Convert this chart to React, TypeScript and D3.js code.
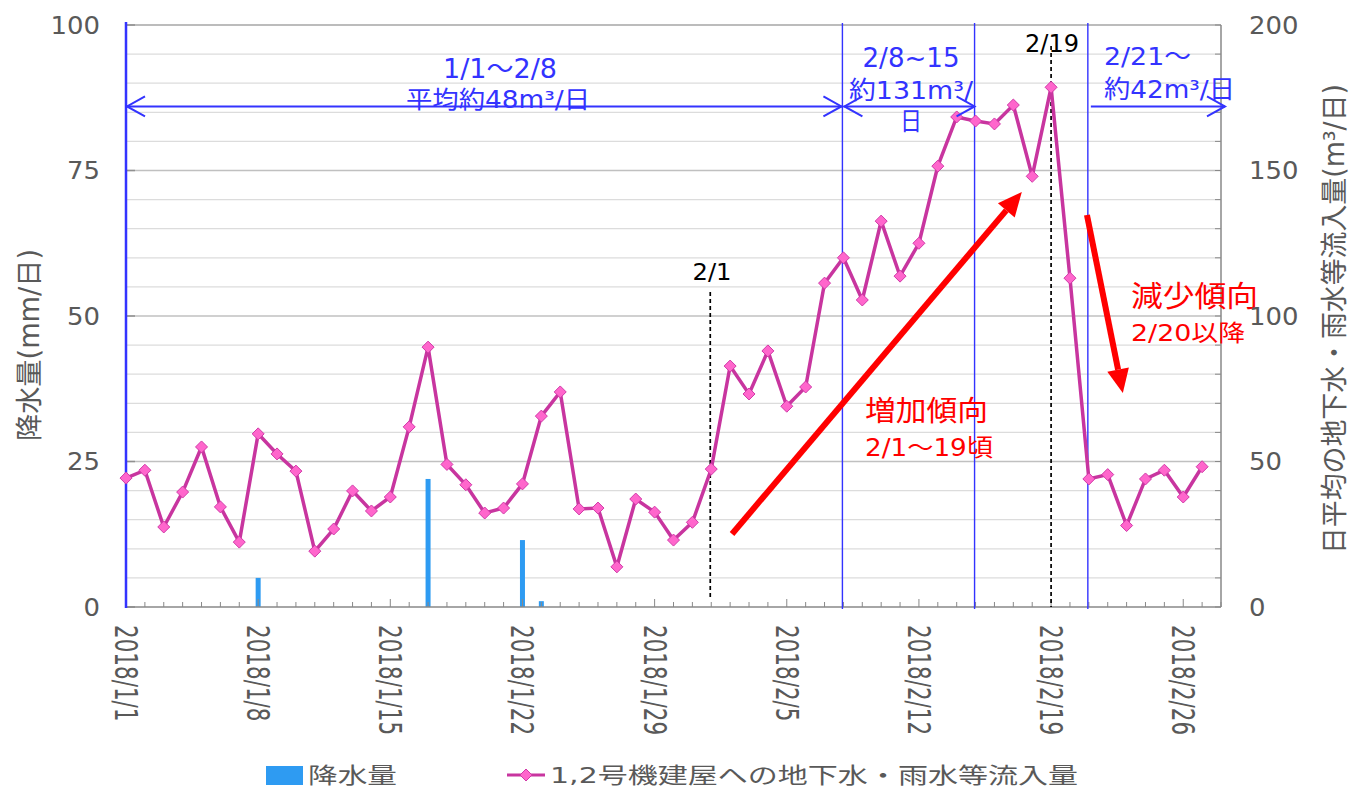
import React from 'react';
import * as d3 from 'd3';

const W = 1350;
const H = 787;

// daily inflow to Unit 1,2 buildings (m3/day), 2018/1/1 .. 2018/2/27
const flowJan = [44.3, 47, 27.5, 39.5, 55, 34.4, 22.3, 59.5, 52.6, 46.7, 19.2, 26.8, 39.9, 33, 37.8, 61.9,
  89.3, 49, 42, 32.3, 34, 42.3, 65.6, 73.9, 33.7, 34, 13.8, 37.1, 32.6, 23, 29.1];
const flowFeb = [47.4, 82.8, 73.2, 88, 69, 75.6, 111.3, 120, 105.5, 132.6, 113.7, 125, 151.5, 168.4, 167, 166,
  172.5, 148, 178.6, 113, 44, 45.5, 28, 44, 47, 37.8, 48.2];
const flow = [...flowJan, ...flowFeb];

// rainfall (mm/day), only days with rain
const rainDays = ['2018/1/8', '2018/1/17', '2018/1/22', '2018/1/23'];
const rainValues = [5, 22, 11.5, 1];

const xTickLabels = ['2018/1/1', '2018/1/8', '2018/1/15', '2018/1/22', '2018/1/29', '2018/2/5', '2018/2/12', '2018/2/19', '2018/2/26'];
const leftTicks = [0, 25, 50, 75, 100];
const rightTicks = [0, 50, 100, 150, 200];

const FONT = "'DejaVu Sans','Noto Sans CJK JP',sans-serif";
const GRAY = '#595959';
const BLUE = '#3333FF';
const RED = '#FF0000';

const start = new Date(Date.UTC(2018, 0, 1));
const parse = d3.utcParse('%Y/%m/%d');
const dayIdx = (s: string) => d3.utcDay.count(start, parse(s) as Date);

const plot = { left: 126, right: 1221, top: 25, bottom: 607 };
const x = d3.scaleLinear().domain([0, 58]).range([plot.left, plot.right]);
const yL = d3.scaleLinear().domain([0, 100]).range([plot.bottom, plot.top]);
const yR = d3.scaleLinear().domain([0, 200]).range([plot.bottom, plot.top]);

const diamond = (cx: number, cy: number, r = 6) =>
  `M${cx},${cy - r}L${cx + r},${cy}L${cx},${cy + r}L${cx - r},${cy}Z`;

function Txt({ x, y, len, size = 24, color = BLUE, anchor = 'start', children }: any) {
  return (
    <text x={x} y={y} fontSize={size} fill={color} textAnchor={anchor} fontFamily={FONT}
      textLength={len} lengthAdjust="spacingAndGlyphs">{children}</text>
  );
}

function redArrow(x1: number, y1: number, x2: number, y2: number) {
  const a = Math.atan2(y2 - y1, x2 - x1);
  const L = 24, hw = 11;
  const bx = x2 - L * Math.cos(a), by = y2 - L * Math.sin(a);
  const nx = -Math.sin(a), ny = Math.cos(a);
  return (
    <g>
      <line x1={x1} y1={y1} x2={bx} y2={by} stroke={RED} strokeWidth={6} />
      <path d={`M${x2},${y2}L${bx + nx * hw},${by + ny * hw}L${bx - nx * hw},${by - ny * hw}Z`} fill={RED} />
    </g>
  );
}

function chevron(tx: number, ty: number, dir: number) {
  return <path d={`M${tx - dir * 18},${ty - 10}L${tx},${ty}L${tx - dir * 18},${ty + 10}`} fill="none" stroke={BLUE} strokeWidth={2} />;
}

export default function App() {
  const line = d3.line<number>().x((_, i) => x(i)).y((d) => yR(d));
  const minor = d3.range(5, 100, 5);
  const arrowY = yL(86);
  const i2_1 = dayIdx('2018/2/1');
  const i2_8 = dayIdx('2018/2/8');
  const i2_15 = dayIdx('2018/2/15');
  const i2_19 = dayIdx('2018/2/19');
  const i2_21 = dayIdx('2018/2/21');

  return (
    <svg width={W} height={H} style={{ position: 'absolute', left: 0, top: 0, background: '#fff' }}>
      {/* gridlines */}
      {minor.map((v) => (
        <line key={v} x1={plot.left} x2={plot.right} y1={yL(v)} y2={yL(v)}
          stroke={v % 25 === 0 ? '#C0C0C0' : '#DCDCDC'} strokeWidth={v % 25 === 0 ? 1.5 : 1.2} />
      ))}
      <line x1={plot.left} x2={plot.right} y1={plot.top} y2={plot.top} stroke="#A6A6A6" strokeWidth={1.5} />
      {leftTicks.map((v) => (
        <line key={v} x1={plot.left} x2={plot.left + 9} y1={yL(v)} y2={yL(v)} stroke="#909090" strokeWidth={1.5} />
      ))}

      {/* rainfall bars */}
      {rainDays.map((d, i) => (
        <rect key={d} x={x(dayIdx(d)) - 2.5} width={5} y={yL(rainValues[i])} height={yL(0) - yL(rainValues[i])} fill="#2E9BF2" />
      ))}

      {/* axes */}
      <line x1={plot.left} x2={plot.right} y1={plot.bottom} y2={plot.bottom} stroke="#898989" strokeWidth={1.5} />
      <line x1={plot.right} x2={plot.right} y1={plot.top} y2={plot.bottom} stroke="#898989" strokeWidth={1.5} />
      {d3.range(0, 59).map((i) => (
        <line key={i} x1={x(i)} x2={x(i)} y1={plot.bottom} y2={plot.bottom - (i % 7 === 0 ? 8 : 5)} stroke="#898989" strokeWidth={1} />
      ))}
      {d3.range(0, 201, 10).map((v) => (
        <line key={v} x1={plot.right} x2={plot.right - 6} y1={yR(v)} y2={yR(v)} stroke="#898989" strokeWidth={1} />
      ))}

      {/* period separators */}
      <line x1={x(0)} x2={x(0)} y1={plot.top - 3} y2={plot.bottom + 1} stroke={BLUE} strokeWidth={2.5} />
      {[i2_8, i2_15, i2_21].map((i) => (
        <line key={i} x1={x(i) - 1} x2={x(i) - 1} y1={plot.top - 2} y2={plot.bottom + 2} stroke={BLUE} strokeWidth={1.4} />
      ))}
      <line x1={x(i2_1) - 1} x2={x(i2_1) - 1} y1={292} y2={plot.bottom - 8} stroke="#000" strokeWidth={1.7} strokeDasharray="4,3" />
      <line x1={x(i2_19)} x2={x(i2_19)} y1={46} y2={plot.bottom} stroke="#000" strokeWidth={1.7} strokeDasharray="4,3" />

      {/* inflow line */}
      <path d={line(flow) as string} fill="none" stroke="#C8359F" strokeWidth={3.5} />
      {flow.map((v, i) => (
        <path key={i} d={diamond(x(i), yR(v))} fill="#FF66CC" stroke="#D13AA8" strokeWidth={1} />
      ))}

      {/* period arrows */}
      <line x1={x(0)} x2={x(i2_8) - 1} y1={arrowY} y2={arrowY} stroke={BLUE} strokeWidth={2} />
      {chevron(x(0) + 1, arrowY, -1)}
      {chevron(x(i2_8) - 2, arrowY, 1)}
      <line x1={x(i2_8)} x2={x(i2_15) - 1} y1={arrowY} y2={arrowY} stroke={BLUE} strokeWidth={2} />
      {chevron(x(i2_8) + 1, arrowY, -1)}
      {chevron(x(i2_15) - 1, arrowY, 1)}
      <line x1={x(i2_21) + 2} x2={plot.right + 4} y1={arrowY} y2={arrowY} stroke={BLUE} strokeWidth={2} />
      {chevron(plot.right + 4, arrowY, 1)}

      {/* trend arrows */}
      {redArrow(x(32.1), yR(25.1), x(47.45), yR(142.6))}
      {redArrow(x(50.9), yR(134.7), x(52.8), yR(73.5))}

      {/* annotations */}
      <Txt x={500} y={78} size={26} len={114} anchor="middle">1/1～2/8</Txt>
      <Txt x={498} y={108} size={24} len={184} anchor="middle">平均約48m³/日</Txt>
      <Txt x={911} y={67} size={26} len={97} anchor="middle">2/8~15</Txt>
      <Txt x={911} y={99} size={25} len={124} anchor="middle">約131m³/</Txt>
      <Txt x={911} y={130} size={25} len={22} anchor="middle">日</Txt>
      <Txt x={1104} y={65} size={25} len={87}>2/21～</Txt>
      <Txt x={1104} y={98} size={25} len={131}>約42m³/日</Txt>
      <Txt x={712} y={280} size={23} len={39} color="#000" anchor="middle">2/1</Txt>
      <Txt x={1052} y={52} size={24} len={54} color="#000" anchor="middle">2/19</Txt>
      <Txt x={865} y={421} size={28} len={123} color={RED}>増加傾向</Txt>
      <Txt x={865} y={456} size={24} len={128} color={RED}>2/1～19頃</Txt>
      <Txt x={1131} y={307} size={29} len={127} color={RED}>減少傾向</Txt>
      <Txt x={1131} y={341} size={23} len={114} color={RED}>2/20以降</Txt>

      {/* y tick labels */}
      {leftTicks.map((v) => (
        <text key={v} x={100} y={yL(v)} dy="0.36em" textAnchor="end" fontSize={24} fill={GRAY} fontFamily={FONT}
          transform={`translate(100,0) scale(1.08,1) translate(-100,0)`}>{v}</text>
      ))}
      {rightTicks.map((v) => (
        <text key={v} x={1249} y={yR(v)} dy="0.36em" fontSize={24} fill={GRAY} fontFamily={FONT}
          transform={`translate(1249,0) scale(1.08,1) translate(-1249,0)`}>{v}</text>
      ))}

      {/* x tick labels */}
      {xTickLabels.map((s) => (
        <text key={s} transform={`translate(${x(dayIdx(s))},625) scale(1.45,1) rotate(90)`} fontSize={21.5} fill={GRAY}
          fontFamily={FONT} dominantBaseline="central">{s}</text>
      ))}

      {/* axis titles */}
      <text transform="translate(29,345) scale(1.15,1) rotate(-90)" textAnchor="middle" dominantBaseline="central"
        fontSize={24} fill={GRAY} fontFamily={FONT} textLength={192} lengthAdjust="spacingAndGlyphs">降水量(mm/日)</text>
      <text transform="translate(1334,319) scale(1.15,1) rotate(-90)" textAnchor="middle" dominantBaseline="central"
        fontSize={24} fill={GRAY} fontFamily={FONT} textLength={470} lengthAdjust="spacingAndGlyphs">日平均の地下水・雨水等流入量(m³/日)</text>

      {/* legend */}
      <rect x={266} y={766} width={37} height={19} fill="#2E9BF2" />
      <Txt x={308} y={783} size={22} len={89} color={GRAY}>降水量</Txt>
      <line x1={507} x2={545} y1={775} y2={775} stroke="#C8359F" strokeWidth={3} />
      <path d={diamond(526, 775)} fill="#FF66CC" stroke="#D13AA8" strokeWidth={1} />
      <Txt x={550} y={783} size={22} len={528} color={GRAY}>1,2号機建屋への地下水・雨水等流入量</Txt>
    </svg>
  );
}
